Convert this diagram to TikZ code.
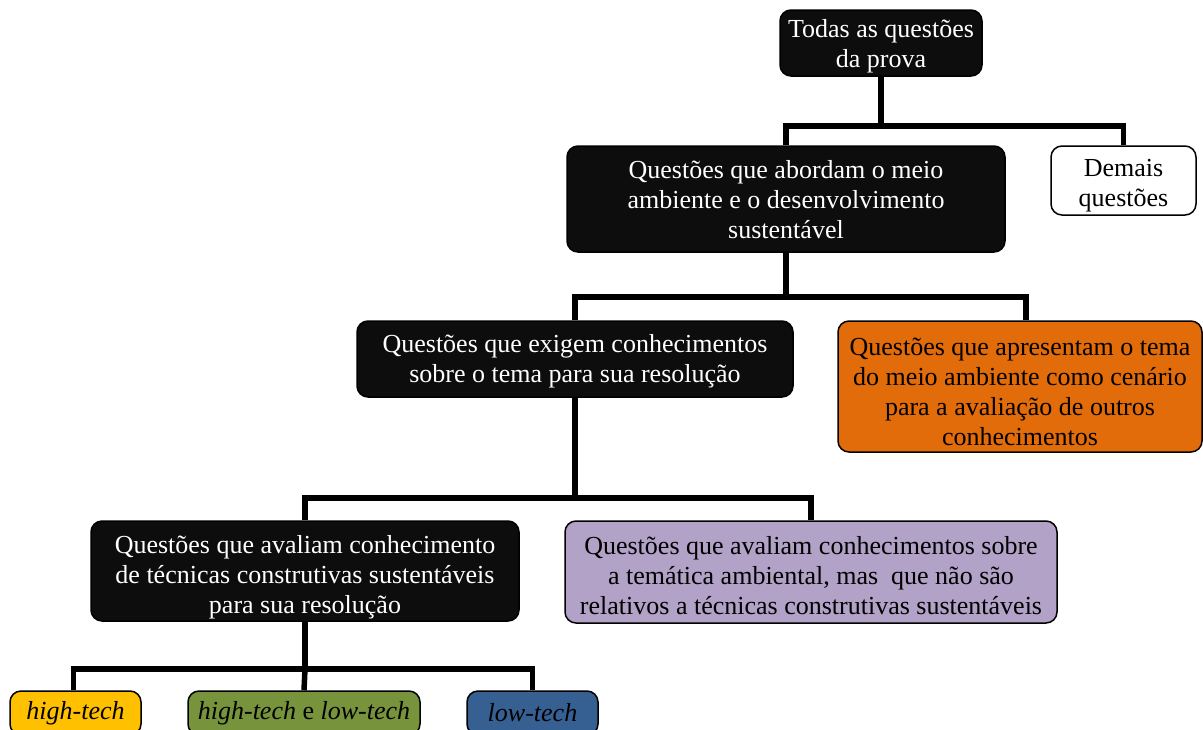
\documentclass[tikz,border=0pt]{standalone}
\usepackage{fontspec}
\setmainfont{Liberation Serif}
\usetikzlibrary{positioning}

\definecolor{boxblack}{HTML}{0D0D0D}
\definecolor{cenorange}{HTML}{E36C0A}
\definecolor{temlilac}{HTML}{B2A2C7}
\definecolor{hiyellow}{HTML}{FFC000}
\definecolor{bothgreen}{HTML}{77933C}
\definecolor{loblue}{HTML}{376092}

% pushes the text of a box a little down
\newcommand\sink[1]{\rule{0pt}{#1pt}}

\begin{document}
\begin{tikzpicture}
  [x=1pt, y=-1pt,
   box/.style={draw, line width=1.5pt, rounded corners=11pt, align=center,
      inner xsep=2pt, inner ysep=0pt, font=\fontsize{26}{30}\selectfont},
   dark/.style={box, fill=boxblack, text=white},
   light/.style={box, fill=#1, text=black},
   conn/.style={line width=5.5pt, line join=miter},
  ]
  \useasboundingbox (0,0) rectangle (1203,729);

  % upper levels
  \node[dark, minimum width=202pt, minimum height=66pt] (top) at (881,43)
       {\sink{25.5}Todas as questões\\da prova};
  \node[dark, minimum width=438pt, minimum height=106pt] (amb) at (786,199)
       {\sink{19.5}Questões que abordam o meio\\ambiente e o desenvolvimento\\sustentável};
  \node[light=white, minimum width=145pt, minimum height=69pt] (dem) at (1123.5,180.5)
       {\sink{27.5}Demais\\questões};
  \node[dark, minimum width=436pt, minimum height=76pt] (exig) at (575,359)
       {\sink{22.5}Questões que exigem conhecimentos\\sobre o tema para sua resolução};
  \node[light=cenorange, minimum width=364pt, minimum height=131pt] (cen) at (1020,386.5)
       {\sink{27.5}Questões que apresentam o tema\\do meio ambiente como cenário\\para a avaliação de outros\\conhecimentos};

  % lower levels
  \node[dark, minimum width=428pt, minimum height=100pt] (tec) at (305,571)
       {\sink{31.5}Questões que avaliam conhecimento\\de técnicas construtivas sustentáveis\\para sua resolução};
  \node[light=temlilac, minimum width=492pt, minimum height=102pt] (tem) at (811,572)
       {\sink{24.5}Questões que avaliam conhecimentos sobre\\a temática ambiental, mas\ \ que não são\\relativos a técnicas construtivas sustentáveis};
  \node[light=hiyellow, minimum width=131pt, minimum height=44pt] (hi) at (75.5,713)
       {\textit{high-tech}};
  \node[light=bothgreen, minimum width=232pt, minimum height=44pt] (both) at (304,713)
       {\textit{high-tech} e \textit{low-tech}};
  \node[light=loblue, minimum width=131pt, minimum height=44pt] (lo) at (532.5,713)
       {\textit{low-tech}};

  % connectors
  \draw[conn] (top.south) -- ++(0,49) coordinate (j1);
  \draw[conn] (amb.north) |- (j1) -| (dem.north);
  \draw[conn] (amb.south) -- ++(0,44) coordinate (j2);
  \draw[conn] (exig.north) |- (j2) -| ([xshift=6pt]cen.north);
  \draw[conn] (exig.south) -- ++(0,100) coordinate (j3);
  \draw[conn] (tec.north) |- (j3) -| (tem.north);
  \draw[conn] (tec.south) -- ++(0,47) coordinate (j4);
  \draw[conn] ([xshift=-2pt]hi.north) |- (j4) -| (lo.north);
  \draw[conn] (j4) -- (both.north);
\end{tikzpicture}
\end{document}
